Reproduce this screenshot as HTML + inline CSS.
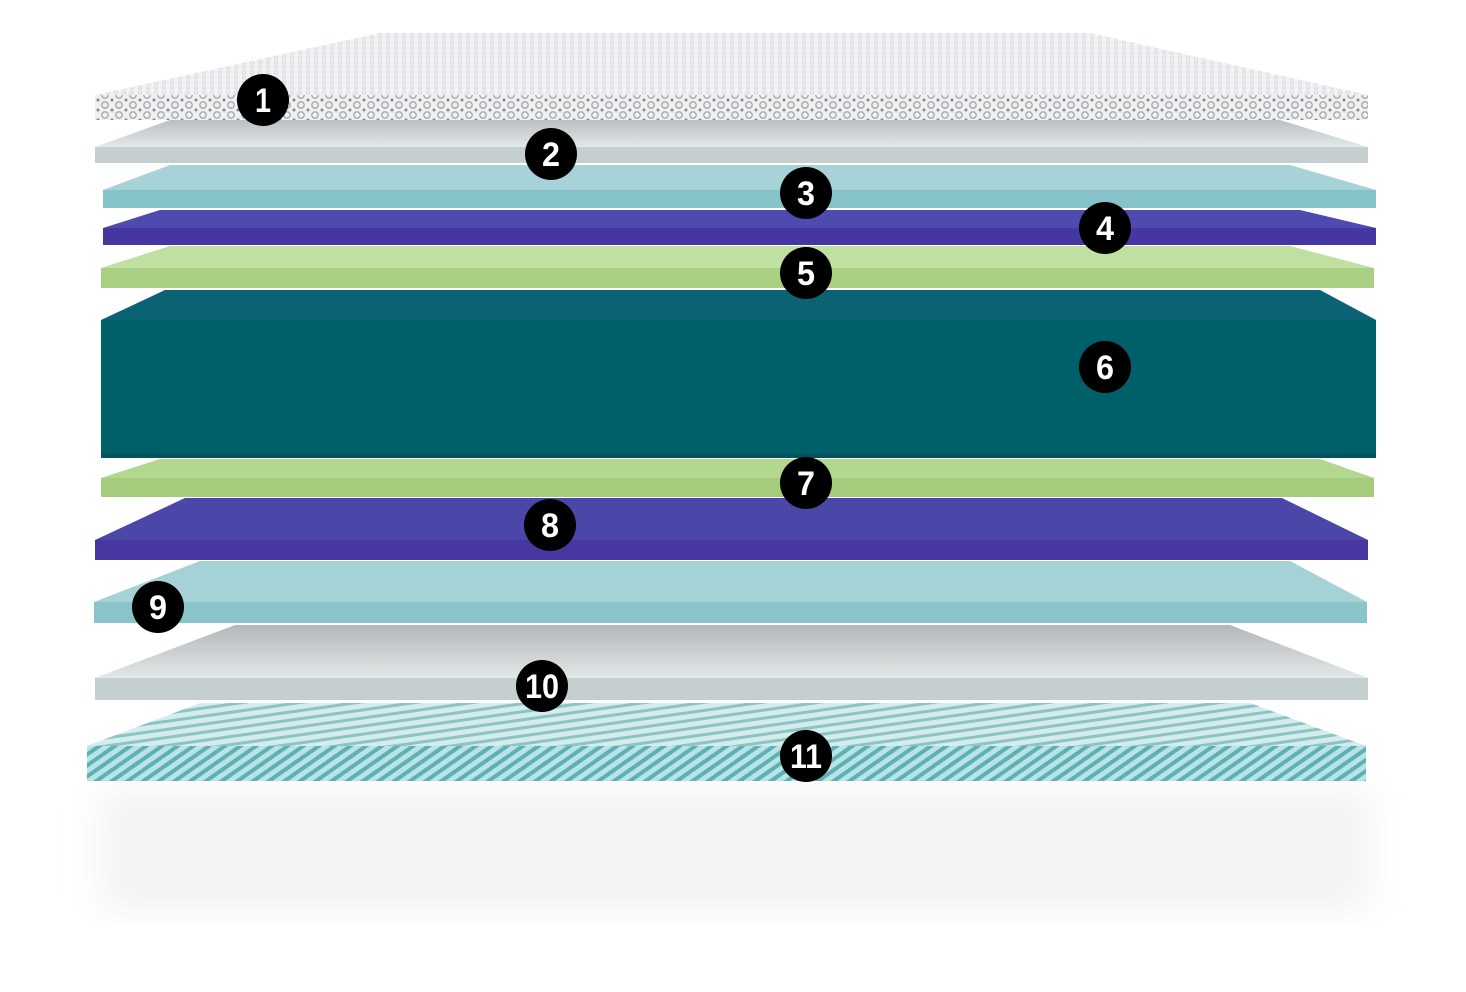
<!DOCTYPE html>
<html><head><meta charset="utf-8"><style>
html,body{margin:0;padding:0;background:#fff;width:1466px;height:992px;overflow:hidden}
svg{display:block}
.b text{font-family:"Liberation Sans",sans-serif;font-weight:bold;font-size:34px;fill:#fff;text-anchor:middle}
</style></head><body>
<svg width="1466" height="992" viewBox="0 0 1466 992" xmlns="http://www.w3.org/2000/svg">
<defs>
<pattern id="dots" width="14" height="10" patternUnits="userSpaceOnUse">
<rect width="14" height="10" fill="#eef0f2"/>
<circle cx="7" cy="5" r="3.2" fill="none" stroke="#a6a9ad" stroke-width="1.4"/>
<circle cx="0" cy="0" r="1.5" fill="#888"/><circle cx="14" cy="0" r="1.5" fill="#888"/><circle cx="0" cy="10" r="1.5" fill="#888"/><circle cx="14" cy="10" r="1.5" fill="#888"/>
</pattern>
<pattern id="dotsTop" width="8" height="5" patternUnits="userSpaceOnUse">
<rect width="8" height="5" fill="#f1f2f4"/><circle cx="4" cy="2.5" r="1.6" fill="none" stroke="#d3d5d9" stroke-width="0.8"/>
</pattern>
<pattern id="stripe" width="9" height="9" patternUnits="userSpaceOnUse" patternTransform="rotate(-35)">
<rect width="9" height="9" fill="#b8e4e6"/><rect width="9" height="4" fill="#5fb0b4"/>
</pattern>
<pattern id="stripeTop" width="8" height="8" patternUnits="userSpaceOnUse" patternTransform="rotate(-8)">
<rect width="8" height="8" fill="#d4ecec"/><rect width="8" height="3" fill="#8cc4c6"/>
</pattern>
<linearGradient id="g2" x1="0" y1="0" x2="0" y2="1"><stop offset="0" stop-color="#b9bfc2"/><stop offset="1" stop-color="#e3e9ea"/></linearGradient>
<linearGradient id="g10" x1="0" y1="0" x2="0" y2="1"><stop offset="0" stop-color="#b4b7b9"/><stop offset="1" stop-color="#e2e7e8"/></linearGradient>
<filter id="blur"><feGaussianBlur stdDeviation="18"/></filter>
</defs>
<rect x="100" y="790" width="1270" height="120" fill="#f3f3f3" filter="url(#blur)"/>
<polygon points="380,33 1090,33 1368,95 95,95" fill="url(#dotsTop)"/>
<rect x="95" y="95" width="1273" height="25" fill="url(#dots)"/>
<polygon points="170,120 1280,120 1368,147 95,147" fill="url(#g2)"/>
<rect x="95" y="147" width="1273" height="16" fill="#c5cfd0"/>
<polygon points="170,165 1290,165 1376,190 103,190" fill="#a7d3d8"/>
<rect x="103" y="190" width="1273" height="18" fill="#86c3c9"/>
<polygon points="160,210 1300,210 1376,228 103,228" fill="#4e4ab0"/>
<rect x="103" y="228" width="1273" height="17" fill="#4537a2"/>
<polygon points="170,246 1290,246 1374,268 101,268" fill="#c0e0a2"/>
<rect x="101" y="268" width="1273" height="20" fill="#a9cf82"/>
<polygon points="165,290 1320,290 1376,320 101,320" fill="#0b6273"/>
<rect x="101" y="320" width="1275" height="133" fill="#00606a"/>
<rect x="101" y="453" width="1275" height="5" fill="#01535c"/>
<polygon points="160,459 1320,459 1374,478 101,478" fill="#b2d78e"/>
<rect x="101" y="478" width="1273" height="19" fill="#a6cb7c"/>
<polygon points="185,498 1282,498 1368,540 95,540" fill="#4b47a8"/>
<rect x="95" y="540" width="1273" height="20" fill="#4638a0"/>
<polygon points="200,561 1290,561 1367,602 94,602" fill="#a5d2d7"/>
<rect x="94" y="602" width="1273" height="21" fill="#88c4ca"/>
<polygon points="235,625 1230,625 1368,678 95,678" fill="url(#g10)"/>
<rect x="95" y="678" width="1273" height="22" fill="#c6cfd0"/>
<polygon points="200,703 1250,703 1366,746 87,746" fill="url(#stripeTop)"/>
<rect x="87" y="746" width="1279" height="35" fill="url(#stripe)"/>
<g class="b">
<circle cx="263" cy="100" r="26" fill="#000"/><text x="263" y="112" textLength="16" lengthAdjust="spacingAndGlyphs">1</text>
<circle cx="551" cy="154" r="26" fill="#000"/><text x="551" y="166" textLength="18" lengthAdjust="spacingAndGlyphs">2</text>
<circle cx="806" cy="193" r="26" fill="#000"/><text x="806" y="205" textLength="18" lengthAdjust="spacingAndGlyphs">3</text>
<circle cx="1105" cy="228" r="26" fill="#000"/><text x="1105" y="240" textLength="18" lengthAdjust="spacingAndGlyphs">4</text>
<circle cx="806" cy="273" r="26" fill="#000"/><text x="806" y="285" textLength="18" lengthAdjust="spacingAndGlyphs">5</text>
<circle cx="1105" cy="367" r="26" fill="#000"/><text x="1105" y="379" textLength="18" lengthAdjust="spacingAndGlyphs">6</text>
<circle cx="806" cy="483" r="26" fill="#000"/><text x="806" y="495" textLength="18" lengthAdjust="spacingAndGlyphs">7</text>
<circle cx="550" cy="525" r="26" fill="#000"/><text x="550" y="537" textLength="18" lengthAdjust="spacingAndGlyphs">8</text>
<circle cx="158" cy="607" r="26" fill="#000"/><text x="158" y="619" textLength="18" lengthAdjust="spacingAndGlyphs">9</text>
<circle cx="542" cy="686" r="26" fill="#000"/><text x="542" y="698" textLength="34" lengthAdjust="spacingAndGlyphs">10</text>
<circle cx="806" cy="756" r="26" fill="#000"/><text x="806" y="768" textLength="32" lengthAdjust="spacingAndGlyphs">11</text>
</g>
</svg>
</body></html>
